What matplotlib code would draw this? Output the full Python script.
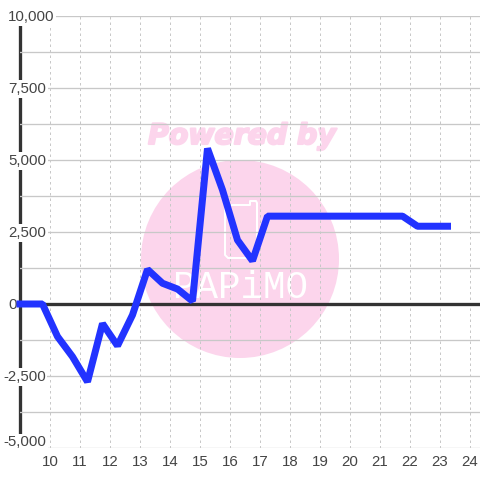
import matplotlib
matplotlib.use('Agg')
import matplotlib.pyplot as plt
import matplotlib.patheffects as pe
from matplotlib.patches import Circle, Polygon
from matplotlib.transforms import ScaledTranslation

plt.rcParams['font.family'] = ['Liberation Sans', 'DejaVu Sans']

x_ticks = list(range(10, 25))
y_ticks = [-5000, -2500, 0, 2500, 5000, 7500, 10000]
y_labels = ['-5,000', '-2,500', '0', '2,500', '5,000', '7,500', '10,000']
y_minor = [-3750, -1250, 1250, 3750, 6250, 8750]

hours = [9, 9.25, 9.75, 10.25, 10.75, 11.25, 11.75, 12.25, 12.75, 13.25, 13.75, 14.25, 14.75,
         15.25, 15.75, 16.25, 16.75, 17.25, 17.75, 18.25, 18.75, 19.25, 19.75, 20.25,
         20.75, 21.25, 21.75, 22.25, 22.75, 23.25]
values = [0, 0, 0, -1130, -1830, -2700, -680, -1450, -380, 1200, 720, 520, 100,
          5400, 3960, 2220, 1500, 3050, 3050, 3050, 3050, 3050, 3050, 3050,
          3050, 3050, 3050, 2700, 2700, 2700]

GRID = '#c8c8c8'
DARK = '#333333'
TEXT = '#444444'
PINK = '#fcd5ec'
BLUE = '#2233ff'
PX = 0.72

fig = plt.figure(figsize=(4.8, 4.8), dpi=100)
ax = fig.add_axes([20 / 480, 1 - 448 / 480, 460 / 480, 432 / 480])
ax.set_xlim(9, 9 + 460 / 30)
ax.set_ylim(-5000, 10000)

# watermark (figure-fraction coordinates)
ft = fig.transFigure
ax.add_patch(Circle((240 / 480, 1 - 259 / 480), 99 / 480, transform=ft, facecolor=PINK,
                    edgecolor='none', zorder=0.1, clip_on=False))
ax.text(242 / 480, 1 - 136 / 480, 'Powered by', transform=ft, color=PINK, fontsize=20.4,
        fontweight='bold', fontstyle='italic', ha='center', va='center', zorder=0.1,
        family=['DejaVu Sans'],
        path_effects=[pe.withStroke(linewidth=1.5, foreground=PINK)])
phone_px = [(225, 205), (250, 205), (250, 201), (256, 201), (257, 203), (257, 254),
            (253, 258), (228, 258), (225, 255)]
ax.add_patch(Polygon([(a / 480, 1 - b / 480) for a, b in phone_px], closed=True, transform=ft,
                     facecolor='none', edgecolor='white', linewidth=2 * PX,
                     joinstyle='round', zorder=0.2, clip_on=False))
ax.text(240 / 480, 1 - 288 / 480, 'PAPiMO', transform=ft, color='white', fontsize=27,
        ha='center', va='center', zorder=0.2, family=['Liberation Mono'])

ax.set_axisbelow(True)
ax.set_xticks(x_ticks)
ax.set_yticks(y_ticks, y_labels)
ax.set_yticks(y_minor, minor=True)
ax.xaxis.grid(True, color=GRID, lw=1 * PX, ls=(0, (2.5, 3)))
ax.yaxis.grid(True, which='both', color=GRID, lw=1.3 * PX)
ax.tick_params(which='both', length=0)
ax.tick_params(axis='x', labelsize=10.8, labelcolor=TEXT, pad=5)
ax.tick_params(axis='y', labelsize=10.8, labelcolor=TEXT)

for s in ['top', 'right', 'bottom']:
    ax.spines[s].set_visible(False)
ax.spines['left'].set_color(DARK)
ax.spines['left'].set_linewidth(3.3 * PX)
ax.spines['left'].set_zorder(0.3)

for tick, lab in zip(ax.yaxis.get_major_ticks(), y_labels):
    t = tick.label1
    px = 3 if lab.startswith('-') else 8
    dy = 5.5 if lab == '-5,000' else -1
    t.set_ha('left')
    t.set_va('center')
    t.set_transform(ax.get_yaxis_transform() +
                    ScaledTranslation((px - 20) / 100, dy / 100, fig.dpi_scale_trans))
    t.set_bbox(dict(facecolor='white', edgecolor='none', pad=1.2))

ax.axhline(0, color=DARK, lw=3.3 * PX, zorder=2)
ax.plot(hours, values, color=BLUE, lw=7 * PX, zorder=3, clip_on=False,
        solid_joinstyle='bevel', solid_capstyle='projecting')

fig.savefig('out.png', dpi=100)
